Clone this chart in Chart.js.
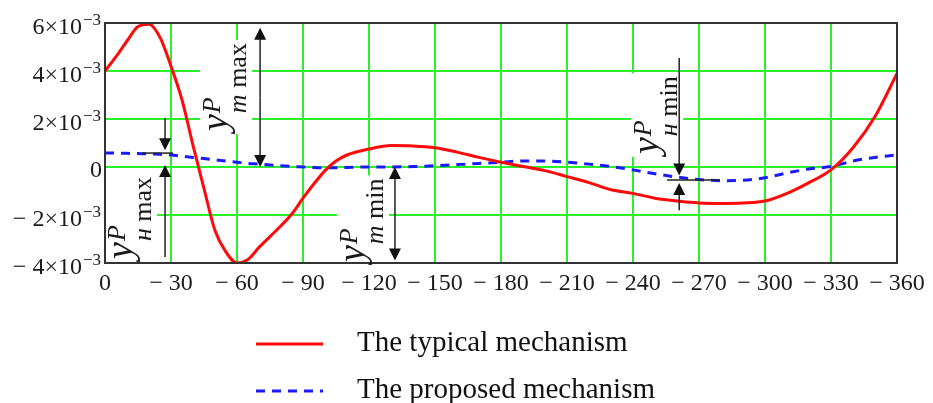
<!doctype html>
<head>
<style>
* {
    box-sizing: border-box;
    margin: 0;
    padding: 0;
}
body {
    background: white;
}
canvas {
    display: block;
}
</style>
</head>
<canvas width="933" height="403"></canvas>
<script src="https://cdn.jsdelivr.net/npm/chart.js"></script>
<script>

let canvas = document.querySelector('canvas')

// crank angle, degrees
let angles = [0, 5, 10, 15, 20, 25, 30, 35, 40, 45, 50, 55, 60, 65, 70, 75, 80, 85, 90, 95, 100, 105, 110,
    120, 130, 140, 150, 160, 170, 180, 190, 200, 210, 220, 230, 240, 250, 260, 270, 280, 290, 300,
    310, 320, 330, 340, 350, 360]

// deviation, in units of 1e-3
let typical = [4.0, 4.6, 5.25, 5.85, 5.95, 5.4, 4.2, 2.8, 0.9, -0.9, -2.65, -3.55, -4.0, -3.85, -3.35, -2.9, -2.45, -1.95, -1.3, -0.7, -0.15, 0.25, 0.5,
    0.75, 0.9, 0.88, 0.8, 0.62, 0.4, 0.2, 0.02, -0.15, -0.4, -0.65, -0.95, -1.1, -1.3, -1.42, -1.5, -1.52, -1.5, -1.42,
    -1.1, -0.65, -0.12, 0.8, 2.1, 3.9]

let proposed = [0.58, 0.58, 0.57, 0.56, 0.55, 0.53, 0.5, 0.45, 0.4, 0.35, 0.3, 0.25, 0.2, 0.15, 0.12, 0.08, 0.05, 0.02, 0.0, -0.02, -0.03, -0.03, -0.02,
    0.0, 0.0, 0.02, 0.05, 0.1, 0.15, 0.2, 0.25, 0.25, 0.2, 0.12, 0.02, -0.12, -0.28, -0.42, -0.52, -0.57, -0.55, -0.45,
    -0.25, -0.08, 0.02, 0.25, 0.4, 0.5]

let y_ticks = [6, 4, 2, 0, -2, -4]
let series_names = ['The typical mechanism', 'The proposed mechanism']

// dimension arrows: angle, start value, tip value
let arrows = [
    [27.3, 2.04, 0.7],
    [27.3, -3.75, 0.08],
    [70.5, 2.9, 5.8],
    [70.5, 2.9, 0],
    [131.8, -2, 0],
    [131.8, -2, -3.9],
    [261, 4.54, -0.35],
    [261, -1.8, -0.67],
]
// short horizontal marks: from angle, to angle, value
let marks = [
    [16.8, 30.9, 0.58],
    [255.5, 279.5, -0.54],
]
// rotated symbols: angle, value, subscript letter, rest
let symbols = [
    [12.3, -3.83, 'н', ' max'],
    [55.5, 1.5, 'm', ' max'],
    [117.7, -3.96, 'm', ' min'],
    [251.5, 0.54, 'н', ' min'],
]

const serif = '"Liberation Serif", "Times New Roman", serif'
const ink = '#1a1a1a'

function symbol_length(ctx, sub, rest) {
    ctx.font = 'italic 38px ' + serif
    let w = ctx.measureText('y').width + 1
    ctx.font = 'italic 26px ' + serif
    w += ctx.measureText(sub).width
    ctx.font = '26px ' + serif
    return w + ctx.measureText(rest).width
}

function draw_symbol(ctx, px, py, sub, rest) {
    ctx.save()
    ctx.translate(px, py)
    ctx.rotate(-Math.PI / 2)
    ctx.fillStyle = ink
    ctx.textAlign = 'left'
    ctx.textBaseline = 'alphabetic'
    ctx.font = 'italic 38px ' + serif
    ctx.fillText('y', 0, 0)
    let w = ctx.measureText('y').width + 1
    ctx.font = 'italic 26px ' + serif
    ctx.fillText('P', w, -7)
    ctx.fillText(sub, w, 19)
    w += ctx.measureText(sub).width
    ctx.font = '26px ' + serif
    ctx.fillText(rest, w, 19)
    ctx.restore()
}

function draw_arrow(ctx, px, y0, y1) {
    let dir = y1 > y0 ? 1 : -1
    ctx.beginPath()
    ctx.moveTo(px, y0)
    ctx.lineTo(px, y1 - dir * 10)
    ctx.stroke()
    ctx.beginPath()
    ctx.moveTo(px, y1)
    ctx.lineTo(px - 6, y1 - dir * 12)
    ctx.lineTo(px + 6, y1 - dir * 12)
    ctx.closePath()
    ctx.fill()
}

let decorations = {
    id: 'decorations',
    beforeDatasetsDraw(chart) {
        let ctx = chart.ctx
        let x = chart.scales.x
        let y = chart.scales.y
        ctx.save()
        ctx.fillStyle = 'white'
        for (let [a, v, sub, rest] of symbols) {
            let px = x.getPixelForValue(a)
            let py = y.getPixelForValue(v)
            let len = symbol_length(ctx, sub, rest)
            ctx.fillRect(px - 27, py - len - 3, 52, len + 6)
        }
        ctx.restore()
    },
    afterDatasetsDraw(chart) {
        let ctx = chart.ctx
        let x = chart.scales.x
        let y = chart.scales.y
        let area = chart.chartArea
        ctx.save()

        ctx.strokeStyle = '#333'
        ctx.lineWidth = 2
        ctx.strokeRect(area.left, area.top, area.right - area.left, area.bottom - area.top)

        ctx.strokeStyle = '#222'
        ctx.fillStyle = '#111'
        ctx.lineWidth = 1.5
        for (let [a, v0, v1] of arrows) {
            draw_arrow(ctx, x.getPixelForValue(a), y.getPixelForValue(v0), y.getPixelForValue(v1))
        }
        for (let [a0, a1, v] of marks) {
            let py = y.getPixelForValue(v)
            ctx.beginPath()
            ctx.moveTo(x.getPixelForValue(a0), py)
            ctx.lineTo(x.getPixelForValue(a1), py)
            ctx.stroke()
        }
        for (let [a, v, sub, rest] of symbols) {
            draw_symbol(ctx, x.getPixelForValue(a), y.getPixelForValue(v), sub, rest)
        }

        // y tick labels with exponent
        ctx.fillStyle = ink
        ctx.textAlign = 'right'
        ctx.textBaseline = 'alphabetic'
        for (let v of y_ticks) {
            let py = y.getPixelForValue(v)
            if (v === 0) {
                ctx.font = '24px ' + serif
                ctx.fillText('0', 102, py + 10)
                continue
            }
            ctx.font = '17px ' + serif
            let exp = '−3'
            let ew = ctx.measureText(exp).width
            ctx.fillText(exp, 101, py + 2)
            ctx.font = '24px ' + serif
            ctx.fillText((v < 0 ? '− ' : '') + Math.abs(v) + '×10', 100 - ew, py + 11)
        }

        // legend
        let rows = [344, 391]
        chart.data.datasets.forEach((ds, i) => {
            ctx.strokeStyle = ds.borderColor
            ctx.lineWidth = ds.borderWidth
            ctx.setLineDash(ds.borderDash || [])
            ctx.beginPath()
            ctx.moveTo(256, rows[i])
            ctx.lineTo(323, rows[i])
            ctx.stroke()
            ctx.setLineDash([])
            ctx.fillStyle = '#111'
            ctx.textAlign = 'left'
            ctx.font = '29px ' + serif
            ctx.fillText(ds.label, 357, rows[i] + 7)
        })
        ctx.restore()
    },
}

let chart = new Chart(canvas, {
    type: 'line',
    data: {
        labels: angles,
        datasets: [
            {
                label: series_names[0],
                data: typical,
                borderColor: '#ff0a0a',
                borderWidth: 3,
            },
            {
                label: series_names[1],
                data: proposed,
                borderColor: '#1a1aff',
                borderWidth: 3,
                borderDash: [9, 7],
            },
        ],
    },
    options: {
        responsive: false,
        devicePixelRatio: 1,
        animation: false,
        layout: {
            padding: {left: 105, right: 36, top: 23, bottom: 100},
        },
        datasets: {
            line: {
                pointRadius: 0,
                pointHitRadius: 0,
                cubicInterpolationMode: 'monotone',
            },
        },
        scales: {
            x: {
                type: 'linear',
                min: 0,
                max: 360,
                border: {display: false},
                grid: {color: '#2bef2b', lineWidth: 2, drawTicks: false},
                ticks: {
                    stepSize: 30,
                    maxRotation: 0,
                    autoSkip: false,
                    padding: 6,
                    color: ink,
                    font: {family: serif, size: 24},
                    callback: v => v === 0 ? '0' : '− ' + v,
                },
                afterFit: s => { s.height = 40 },
            },
            y: {
                min: -4,
                max: 6,
                border: {display: false},
                grid: {color: '#2bef2b', lineWidth: 2, drawTicks: false},
                ticks: {stepSize: 2, display: false},
                afterFit: s => { s.width = 0 },
            },
        },
        plugins: {
            legend: {display: false},
            tooltip: {enabled: false},
        },
    },
    plugins: [decorations],
})

</script>
